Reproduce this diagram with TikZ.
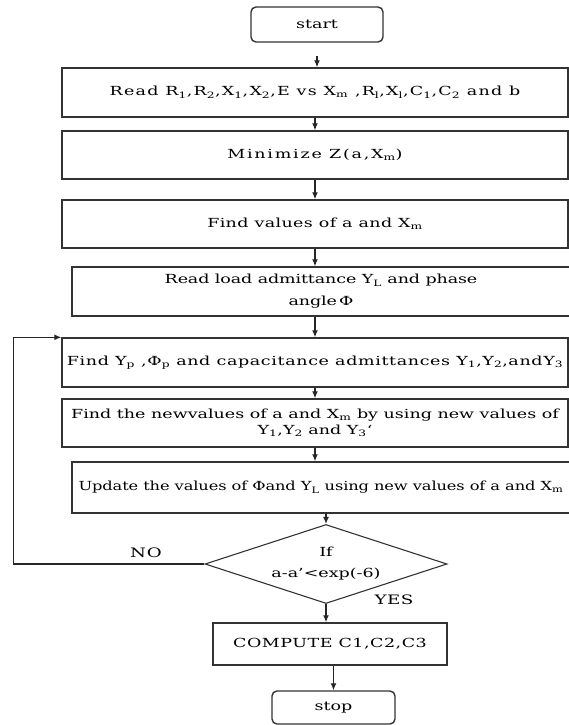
\documentclass[tikz,border=0pt]{standalone}
\usepackage{fontspec}
\setmainfont{DejaVu Serif}[FakeStretch=1.4, LetterSpace=8]
\usepackage{tikz}
\usetikzlibrary{arrows.meta, shapes.geometric}
\newcommand{\sbs}[1]{\textsubscript{#1}}
\newcommand{\lsp}[1]{\addfontfeature{LetterSpace=#1}}

\begin{document}
\begin{tikzpicture}[x=1pt, y=-1pt,
    every node/.style={font=\fontsize{12.5}{16}\selectfont, inner sep=1pt},
    procbox/.style={draw=black!80, line width=1.4pt, minimum height=#1},
    procbox/.default=48pt,
    termbox/.style={draw=black!80, line width=1.4pt, rounded corners=5pt},
    decbox/.style={draw=black!80, line width=1.1pt, diamond, aspect=3.06, inner sep=0pt,
        minimum width=242pt, minimum height=79pt, align=center},
    arr/.style={-{Latex[length=7pt,width=6pt]}, line width=1.3pt, draw=black!85}]
    \useasboundingbox (0,0) rectangle (569,725);
    % terminals
    \node[termbox, minimum width=132pt, minimum height=35pt] (start) at (317,24.5) {\lsp{0}start};
    \node[termbox, minimum width=123pt, minimum height=33pt] (stop) at (333.5,707.5) {\lsp{0}stop};
    % process steps
    \node[procbox=49pt, minimum width=506pt] (read) at (315,92.5)
        {\lsp{10}Read R\sbs{1},R\sbs{2},X\sbs{1},X\sbs{2},E vs X\sbs{m} ,R\sbs{l},X\sbs{l},C\sbs{1},C\sbs{2} and b};
    \node[procbox, minimum width=506pt] (minz) at (315,155) {\lsp{14}Minimize Z(a,X\sbs{m})};
    \node[procbox, minimum width=506pt] (vals) at (315,224) {\lsp{3}Find values of a and X\sbs{m}};
    \node[procbox=49pt, minimum width=498pt, align=center, font=\fontsize{12.5}{16}\selectfont\lsp{-1}] (load) at (321,291.5)
        {Read load admittance Y\sbs{L} and phase\\[6pt] angle\,Φ};
    \node[procbox=49pt, minimum width=506pt] (findy) at (315,362.5)
        {\lsp{5}Find Y\sbs{p} ,Φ\sbs{p} and capacitance admittances Y\sbs{1},Y\sbs{2},andY\sbs{3}};
    \node[procbox, minimum width=506pt, align=center, font=\fontsize{12.5}{16}\selectfont\lsp{0}] (newv) at (315,423)
        {Find the newvalues of a and X\sbs{m} by using new values of\\[0pt] Y\sbs{1},Y\sbs{2} and Y\sbs{3}`};
    \node[procbox=51pt, minimum width=498pt, font=\fontsize{12.5}{16}\selectfont\addfontfeature{FakeStretch=1.3, LetterSpace=-1}] (upd) at (321,487.5)
        {Update the values of Φand Y\sbs{L} using new values of a and X\sbs{m}};
    \node[decbox, font=\fontsize{12.5}{16}\selectfont\lsp{0}] (test) at (326,564) {If\\[5pt] a-a'<exp(-6)};
    \node[procbox=42pt, minimum width=234pt] (comp) at (330,644) {\lsp{4}COMPUTE C1,C2,C3};
    % branch labels
    \node[font=\fontsize{13}{16}\selectfont\lsp{6}] (no) at (146,553) {NO};
    \node[font=\fontsize{13}{16}\selectfont\lsp{3}] (yes) at (394,600) {YES};

    \draw[arr, shorten <=13pt] (start.south) -- (start.south |- read.north);
    \draw[arr] (read.south) -- (read.south |- minz.north);
    \draw[arr] (minz.south) -- (minz.south |- vals.north);
    \draw[arr] (vals.south) -- (vals.south |- load.north);
    \draw[arr] (findy.north |- load.south) -- (findy.north);
    \draw[arr] (findy.south) -- (findy.south |- newv.north);
    \draw[arr] (newv.south) -- (newv.south |- upd.north);
    \draw[arr] (test.north |- upd.south) -- (test.north);
    \draw[arr] (test.south) -- (test.south |- comp.north);
    \draw[arr] (stop.north |- comp.south) -- (stop.north);
    % loop back
    \draw[arr] (test.west) -- ++(-191,0) |- (findy.north west);
\end{tikzpicture}
\end{document}
